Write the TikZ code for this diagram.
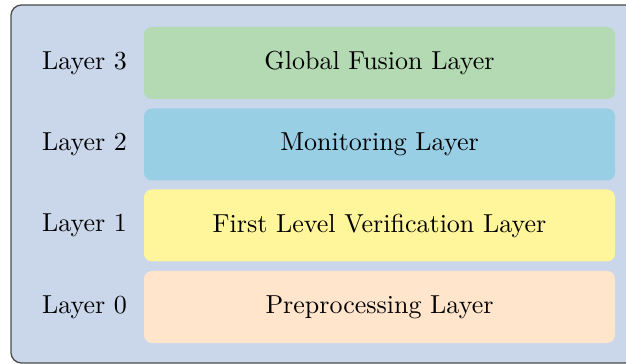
\documentclass[tikz,border=0pt]{standalone}
\usepackage{tikz}
\definecolor{bgcol}{HTML}{CAD6EA}
\definecolor{gcol}{HTML}{B3DAB3}
\definecolor{bcol}{HTML}{99CFE4}
\definecolor{ycol}{HTML}{FFF59A}
\definecolor{pcol}{HTML}{FFE5CC}
\begin{document}
\begin{tikzpicture}[x=0.3846pt,y=-0.3846pt,
  layerbox/.style={draw=none,rounded corners=3pt,minimum width=471*0.3846pt,minimum height=72*0.3846pt,inner sep=0pt},
  lbl/.style={inner sep=0pt}]
\useasboundingbox (0,0) rectangle (626,364);
\draw[draw=black!70,fill=bgcol,line width=0.5pt,rounded corners=4pt] (11,5) rectangle (660,363);
\node[layerbox,fill=gcol] (l3) at (379.5,63) {Global Fusion Layer};
\node[layerbox,fill=bcol] (l2) at (379.5,144.5) {Monitoring Layer};
\node[layerbox,fill=ycol] (l1) at (379.5,225.5) {First Level Verification Layer};
\node[layerbox,fill=pcol] (l0) at (379.5,307) {Preprocessing Layer};
\node[lbl] (t3) at (84.5,63) {Layer 3};
\node[lbl] (t2) at (84.5,144.5) {Layer 2};
\node[lbl] (t1) at (84.5,225.5) {Layer 1};
\node[lbl] (t0) at (84.5,307) {Layer 0};
\end{tikzpicture}
\end{document}
